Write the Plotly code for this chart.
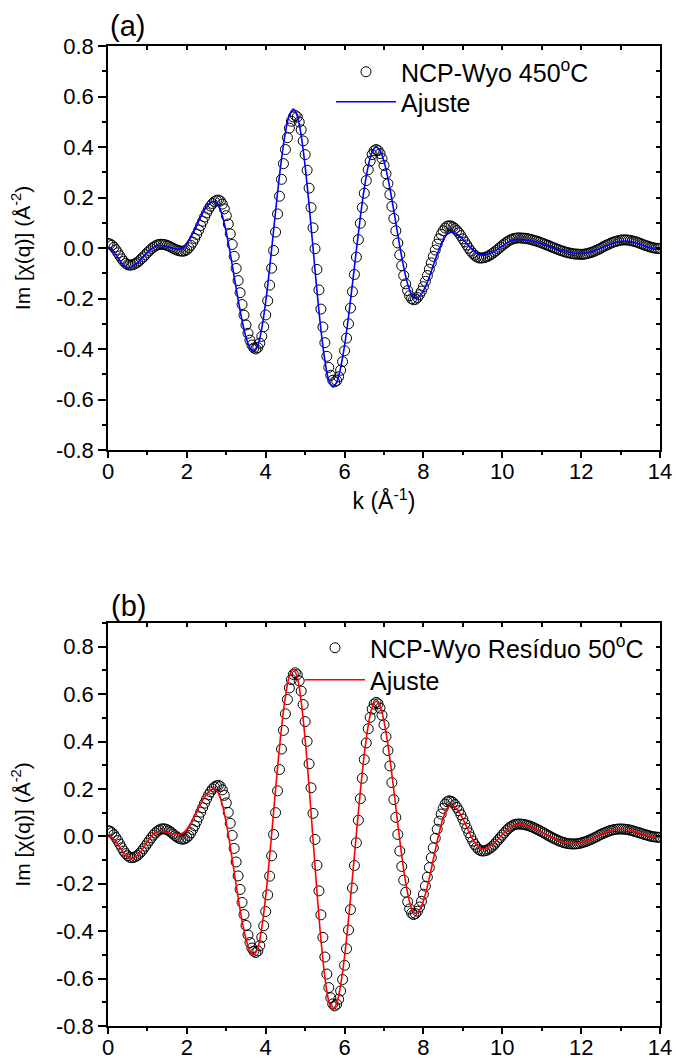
import numpy as np
import plotly.graph_objects as go

# ---------------- data ----------------
k_data = np.linspace(0, 14, 281)   # k grid of the measured points (0.05 step)
k_fit = np.linspace(0, 14, 141)    # k grid of the fitted curves (0.1 step)

data_a = [
    0.018, 0.016, 0.011, 0.003, -0.007, -0.019, -0.031, -0.043, -0.053, -0.061, -0.066, -0.068,
    -0.067, -0.065, -0.061, -0.056, -0.050, -0.042, -0.035, -0.027, -0.018, -0.011, -0.003, 0.003, 0.008, 0.012, 0.014, 0.015,
    0.014, 0.013, 0.010, 0.007, 0.003, -0.001, -0.005, -0.008, -0.011, -0.012, -0.013,
    -0.011, -0.007, 0.001, 0.011, 0.023, 0.038, 0.054, 0.071, 0.089, 0.106, 0.123, 0.139, 0.154, 0.166, 0.176, 0.184, 0.188, 0.190,
    0.186, 0.174, 0.155, 0.128, 0.095, 0.056, 0.014, -0.033, -0.081, -0.129, -0.177, -0.224, -0.266, -0.305, -0.338, -0.365, -0.384, -0.396, -0.400,
    -0.394, -0.377, -0.350, -0.312, -0.265, -0.209, -0.147, -0.080, -0.010, 0.063, 0.135, 0.205, 0.272, 0.334, 0.390, 0.437, 0.475, 0.502, 0.519, 0.525,
    0.519, 0.499, 0.468, 0.424, 0.370, 0.308, 0.237, 0.160, 0.080, -0.003, -0.085, -0.166, -0.242, -0.313, -0.375, -0.429, -0.473, -0.504, -0.524, -0.530,
    -0.525, -0.510, -0.484, -0.450, -0.407, -0.357, -0.300, -0.238, -0.173, -0.105, -0.036, 0.033, 0.098, 0.160, 0.217, 0.267, 0.310, 0.344, 0.370, 0.385, 0.390,
    0.386, 0.374, 0.354, 0.327, 0.294, 0.255, 0.212, 0.165, 0.117, 0.068, 0.020, -0.027, -0.070, -0.109, -0.142, -0.169, -0.189, -0.201, -0.205,
    -0.203, -0.196, -0.185, -0.171, -0.153, -0.132, -0.109, -0.084, -0.059, -0.033, -0.008, 0.015, 0.036, 0.054, 0.068, 0.079, 0.086, 0.088,
    0.087, 0.083, 0.077, 0.069, 0.060, 0.049, 0.036, 0.024, 0.012, -0.001, -0.012, -0.021, -0.029, -0.035, -0.039, -0.040,
    -0.039, -0.038, -0.035, -0.032, -0.027, -0.022, -0.016, -0.010, -0.003, 0.003, 0.010, 0.016, 0.022, 0.027, 0.032, 0.035, 0.038, 0.039, 0.040,
    0.040, 0.039, 0.039, 0.038, 0.036, 0.035, 0.033, 0.030, 0.028, 0.026, 0.023, 0.020, 0.017, 0.014, 0.011, 0.008,
    0.004, 0.001, -0.002, -0.005, -0.008, -0.011, -0.013, -0.016, -0.018, -0.020, -0.021, -0.023, -0.024, -0.024, -0.025, -0.025,
    -0.025, -0.024, -0.022, -0.020, -0.018, -0.015, -0.012, -0.008, -0.005, -0.001, 0.004, 0.008, 0.012, 0.015, 0.019, 0.022, 0.025, 0.027, 0.029, 0.031, 0.032, 0.032,
    0.032, 0.031, 0.030, 0.028, 0.026, 0.024, 0.021, 0.018, 0.015, 0.012, 0.009, 0.007, 0.004, 0.002, 0.000, -0.001, -0.002, -0.002,
]

fit_a = [
    0.003, -0.005, -0.025, -0.050, -0.070, -0.078,
    -0.075, -0.065, -0.051, -0.034, -0.017, -0.003, 0.007, 0.010,
    0.009, 0.005, 0.001, -0.003, -0.004,
    0.002, 0.018, 0.043, 0.074, 0.107, 0.138, 0.163, 0.179, 0.185,
    0.170, 0.128, 0.062, -0.021, -0.113, -0.204, -0.287, -0.353, -0.395, -0.410,
    -0.386, -0.318, -0.212, -0.078, 0.070, 0.218, 0.352, 0.458, 0.526, 0.550,
    0.523, 0.445, 0.323, 0.170, 0.000, -0.170, -0.323, -0.445, -0.523, -0.550,
    -0.531, -0.474, -0.386, -0.272, -0.142, -0.008, 0.122, 0.236, 0.324, 0.381, 0.400,
    0.385, 0.343, 0.276, 0.193, 0.100, 0.007, -0.076, -0.143, -0.185, -0.200,
    -0.192, -0.169, -0.135, -0.092, -0.046, -0.004, 0.031, 0.054, 0.062,
    0.059, 0.049, 0.034, 0.017, 0.000, -0.015, -0.025, -0.028,
    -0.026, -0.021, -0.013, -0.002, 0.008, 0.019, 0.027, 0.032, 0.034,
    0.033, 0.032, 0.029, 0.026, 0.022, 0.017, 0.011, 0.006, 0.001, -0.005, -0.010, -0.014, -0.017, -0.020, -0.021, -0.022,
    -0.021, -0.018, -0.013, -0.007, 0.000, 0.007, 0.013, 0.019, 0.024, 0.027, 0.028,
    0.027, 0.024, 0.020, 0.014, 0.008, 0.002, -0.003, -0.005, -0.006,
]

data_b = [
    0.024, 0.022, 0.016, 0.007, -0.005, -0.018, -0.033, -0.048, -0.062, -0.073, -0.082, -0.088, -0.090,
    -0.089, -0.085, -0.080, -0.072, -0.063, -0.052, -0.041, -0.029, -0.017, -0.006, 0.005, 0.014, 0.022, 0.027, 0.031, 0.032,
    0.031, 0.028, 0.023, 0.017, 0.010, 0.003, -0.003, -0.008, -0.011, -0.012,
    -0.010, -0.005, 0.003, 0.015, 0.029, 0.045, 0.063, 0.082, 0.102, 0.121, 0.140, 0.158, 0.175, 0.188, 0.200, 0.208, 0.213, 0.215,
    0.210, 0.196, 0.173, 0.141, 0.101, 0.055, 0.004, -0.051, -0.108, -0.167, -0.224, -0.279, -0.330, -0.376, -0.416, -0.448, -0.471, -0.485, -0.490,
    -0.483, -0.461, -0.426, -0.377, -0.317, -0.247, -0.168, -0.082, 0.008, 0.100, 0.192, 0.282, 0.368, 0.447, 0.517, 0.577, 0.626, 0.661, 0.683, 0.690,
    0.682, 0.656, 0.613, 0.556, 0.484, 0.401, 0.306, 0.205, 0.097, -0.013, -0.122, -0.230, -0.331, -0.426, -0.509, -0.581, -0.638, -0.681, -0.707, -0.715,
    -0.708, -0.687, -0.652, -0.604, -0.544, -0.474, -0.395, -0.309, -0.218, -0.123, -0.027, 0.068, 0.159, 0.245, 0.324, 0.394, 0.454, 0.502, 0.537, 0.558, 0.565,
    0.559, 0.541, 0.511, 0.471, 0.420, 0.362, 0.297, 0.227, 0.155, 0.080, 0.008, -0.062, -0.127, -0.185, -0.236, -0.276, -0.306, -0.324, -0.330,
    -0.326, -0.316, -0.298, -0.274, -0.244, -0.210, -0.172, -0.132, -0.090, -0.048, -0.008, 0.030, 0.064, 0.094, 0.118, 0.136, 0.146, 0.150,
    0.148, 0.143, 0.134, 0.122, 0.108, 0.091, 0.073, 0.054, 0.034, 0.015, -0.003, -0.020, -0.034, -0.046, -0.055, -0.060, -0.062,
    -0.061, -0.059, -0.054, -0.049, -0.042, -0.034, -0.024, -0.015, -0.005, 0.005, 0.014, 0.024, 0.032, 0.039, 0.044, 0.049, 0.051, 0.052,
    0.052, 0.051, 0.050, 0.048, 0.046, 0.043, 0.040, 0.036, 0.032, 0.028, 0.024, 0.019, 0.015, 0.010,
    0.005, 0.001, -0.004, -0.008, -0.012, -0.016, -0.020, -0.023, -0.026, -0.028, -0.030, -0.031, -0.032, -0.032,
    -0.032, -0.031, -0.030, -0.028, -0.025, -0.023, -0.020, -0.016, -0.013, -0.009, -0.005, -0.001,
    0.004, 0.008, 0.012, 0.015, 0.019, 0.022, 0.025, 0.027, 0.029, 0.030, 0.031, 0.031,
    0.031, 0.030, 0.029, 0.028, 0.026, 0.024, 0.021, 0.019, 0.016, 0.014, 0.011, 0.008, 0.006, 0.004, 0.001, -0.001, -0.002, -0.003, -0.004, -0.004,
]

fit_b = [
    0.000, -0.006, -0.023, -0.046, -0.069, -0.086, -0.092,
    -0.086, -0.071, -0.048, -0.023, 0.000, 0.015, 0.021,
    0.020, 0.016, 0.012, 0.009, 0.008,
    0.014, 0.030, 0.056, 0.087, 0.121, 0.152, 0.178, 0.194, 0.200,
    0.183, 0.133, 0.056, -0.042, -0.150, -0.258, -0.356, -0.433, -0.483, -0.500,
    -0.470, -0.385, -0.252, -0.084, 0.103, 0.289, 0.457, 0.590, 0.675, 0.705,
    0.670, 0.568, 0.409, 0.209, -0.013, -0.234, -0.434, -0.593, -0.695, -0.730,
    -0.704, -0.627, -0.506, -0.350, -0.172, 0.012, 0.190, 0.346, 0.467, 0.544, 0.570,
    0.548, 0.485, 0.386, 0.261, 0.123, -0.016, -0.141, -0.240, -0.303, -0.325,
    -0.311, -0.272, -0.211, -0.137, -0.058, 0.016, 0.077, 0.116, 0.130,
    0.123, 0.103, 0.074, 0.039, 0.003, -0.026, -0.046, -0.053,
    -0.050, -0.041, -0.027, -0.010, 0.007, 0.024, 0.038, 0.047, 0.050,
    0.049, 0.046, 0.041, 0.035, 0.027, 0.019, 0.010, 0.001, -0.007, -0.015, -0.021, -0.026, -0.029, -0.030,
    -0.029, -0.026, -0.021, -0.015, -0.008, 0.000, 0.008, 0.015, 0.021, 0.026, 0.029, 0.030,
    0.029, 0.027, 0.023, 0.018, 0.013, 0.008, 0.003, -0.001, -0.003, -0.004,
]

x_ticks = [0, 2, 4, 6, 8, 10, 12, 14]
x_ticktext = ["0", "2", "4", "6", "8", "10", "12", "14"]
x_minor = [1, 3, 5, 7, 9, 11, 13]
x_all = list(range(15))
y_ticks = [-0.8, -0.6, -0.4, -0.2, 0.0, 0.2, 0.4, 0.6, 0.8]
y_ticktext = ["-0.8", "-0.6", "-0.4", "-0.2", "0.0", "0.2", "0.4", "0.6", "0.8"]
y_minor_a = [-0.7, -0.5, -0.3, -0.1, 0.1, 0.3, 0.5, 0.7]
y_minor_b = [-0.7, -0.5, -0.3, -0.1, 0.1, 0.3, 0.5, 0.7, 0.9]
y_all_a = [round(-0.8 + 0.1 * i, 1) for i in range(17)]
y_all_b = [round(-0.8 + 0.1 * i, 1) for i in range(18)]

label_a = "NCP-Wyo 450<sup>o</sup>C"
label_b = "NCP-Wyo Resíduo 50<sup>o</sup>C"
label_fit = "Ajuste"
y_title = "Im [χ(q)] (Å<sup>-2</sup>)"
x_title = "k (Å<sup>-1</sup>)"

# ---------------- figure ----------------
W, H = 676, 1061
ML, MR, MT, MB = 108, 16, 46, 35          # plot area: x 108..660, y 46..1026
PW, PH = W - ML - MR, H - MT - MB
FONT = "Liberation Sans, Arial, sans-serif"


def px(x):
    return (x - ML) / PW


def py(y):
    return (H - MB - y) / PH


fig = go.Figure()

marker_style = dict(symbol="circle-open", size=10, color="black", line=dict(width=1, color="black"))

fig.add_trace(go.Scatter(x=k_data, y=data_a, mode="markers", marker=marker_style,
                         name=label_a, xaxis="x", yaxis="y", legend="legend"))
fig.add_trace(go.Scatter(x=k_fit, y=fit_a, mode="lines", line=dict(color="#0000FF", width=1.6, shape="spline"),
                         name=label_fit, xaxis="x", yaxis="y", legend="legend3"))
fig.add_trace(go.Scatter(x=k_data, y=data_b, mode="markers", marker=marker_style,
                         name=label_b, xaxis="x2", yaxis="y2", legend="legend2"))
fig.add_trace(go.Scatter(x=k_fit, y=fit_b, mode="lines", line=dict(color="#FF0000", width=1.6, shape="spline"),
                         name=label_fit, xaxis="x2", yaxis="y2", legend="legend4"))

# empty helper traces so the mirrored (inside-tick) axes get drawn
for xa, ya_ in (("x3", "y"), ("x", "y3"), ("x4", "y2"), ("x2", "y4")):
    fig.add_trace(go.Scatter(x=[], y=[], xaxis=xa, yaxis=ya_, showlegend=False, hoverinfo="skip"))

x_dom = [0, 1]
ya_dom = [py(450), py(46)]
yb_dom = [py(1026), py(623)]

xtickfont = dict(family=FONT, size=22, color="black")
ytickfont = dict(family=FONT, size=22, color="black")


def xaxis(anchor, title):
    d = dict(domain=x_dom, anchor=anchor, range=[0, 14], tickmode="array", tickvals=x_ticks,
             ticktext=x_ticktext, ticks="outside", ticklen=6, tickwidth=1.5, tickcolor="black",
             showline=True, linecolor="black", linewidth=1.5, mirror=True, showgrid=False,
             zeroline=False, tickfont=xtickfont, ticklabeloverflow="allow", automargin=False,
             ticklabelstandoff=-5,
             minor=dict(tickmode="array", tickvals=x_minor, ticks="outside", ticklen=3,
                        tickwidth=1.5, tickcolor="black", showgrid=False))
    if title:
        d["title"] = dict(text=title, font=dict(family=FONT, size=23, color="black"), standoff=10)
    return d


def yaxis(anchor, rng, minor, dom):
    return dict(domain=dom, anchor=anchor, range=rng, tickmode="array", tickvals=y_ticks,
                ticktext=y_ticktext, ticks="outside", ticklen=8, tickwidth=1.5, tickcolor="black",
                showline=True, linecolor="black", linewidth=1.5, mirror=True, showgrid=False,
                zeroline=False, tickfont=ytickfont, automargin=False,
                title=dict(text=y_title, font=dict(family=FONT, size=21, color="black"), standoff=20),
                minor=dict(tickmode="array", tickvals=minor, ticks="outside", ticklen=4,
                           tickwidth=1.5, tickcolor="black", showgrid=False))


def top_axis(over, anchor):
    return dict(overlaying=over, anchor=anchor, side="top", range=[0, 14], tickmode="array",
                tickvals=x_all, ticks="inside", ticklen=4, tickwidth=1.5, tickcolor="black",
                showticklabels=False, showline=False, showgrid=False, zeroline=False,
                automargin=False)


def right_axis(over, anchor, rng, vals):
    return dict(overlaying=over, anchor=anchor, side="right", range=rng, tickmode="array",
                tickvals=vals, ticks="inside", ticklen=4, tickwidth=1.5, tickcolor="black",
                showticklabels=False, showline=False, showgrid=False, zeroline=False,
                automargin=False)


def legend_box(x, y):
    return dict(x=px(x), y=py(y), xanchor="left", yanchor="middle",
                bgcolor="rgba(0,0,0,0)", borderwidth=0, itemwidth=60,
                font=dict(family=FONT, size=25, color="black"))


fig.update_layout(
    template="none",
    width=W, height=H,
    margin=dict(l=ML, r=MR, t=MT, b=MB, autoexpand=False),
    paper_bgcolor="white", plot_bgcolor="white",
    font=dict(family=FONT, color="black"),
    xaxis=xaxis("y", x_title),
    yaxis=yaxis("x", [-0.8, 0.8], y_minor_a, ya_dom),
    xaxis2=xaxis("y2", None),
    yaxis2=yaxis("x2", [-0.8, 0.9], y_minor_b, yb_dom),
    xaxis3=top_axis("x", "y"),
    yaxis3=right_axis("y", "x", [-0.8, 0.8], y_all_a),
    xaxis4=top_axis("x2", "y2"),
    yaxis4=right_axis("y2", "x2", [-0.8, 0.9], y_all_b),
    legend=legend_box(331, 72),
    legend3=legend_box(331, 102),
    legend2=legend_box(300, 648),
    legend4=legend_box(300, 680),
    annotations=[
        dict(text="(a)", x=px(127), y=py(26), xref="paper", yref="paper",
             xanchor="center", yanchor="middle", showarrow=False,
             font=dict(family=FONT, size=29, color="black")),
        dict(text="(b)", x=px(128), y=py(606), xref="paper", yref="paper",
             xanchor="center", yanchor="middle", showarrow=False,
             font=dict(family=FONT, size=29, color="black")),
    ],
    showlegend=True,
)

# remove the default page margin so the 676x1061 figure fills the window exactly
fig.write_html("out.html", config={"displayModeBar": False},
               post_script="document.body.style.margin='0';document.body.style.overflow='hidden';")
